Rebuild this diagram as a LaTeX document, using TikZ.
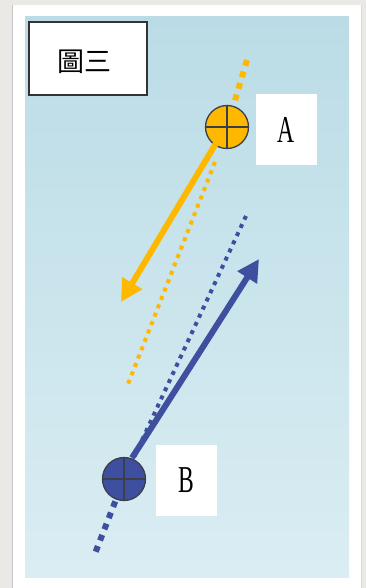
\documentclass[tikz,border=0pt]{standalone}
\usepackage{fontspec}
\usepackage{graphicx}
\setmainfont{Liberation Serif}
\newfontfamily\cjk{Noto Sans CJK TC}
\usetikzlibrary{arrows.meta}
\definecolor{outerbg}{HTML}{EAE9E5}
\definecolor{skytop}{HTML}{BBDCE6}
\definecolor{skybot}{HTML}{DAEDF3}
\definecolor{ayellow}{HTML}{FFB800}
\definecolor{bblue}{HTML}{3E4FA0}
\definecolor{rimgrey}{HTML}{3A3F4A}
\tikzset{
  ball/.style={circle, draw=rimgrey, line width=1.3pt, minimum size=43pt, inner sep=0pt},
  labelbox/.style={fill=white, minimum width=61pt, minimum height=71pt, inner sep=0pt},
  bigdots/.style={line width=6pt, dash pattern=on 6pt off 6pt},
  smalldots/.style={line width=4pt, dash pattern=on 4pt off 5pt},
  motion/.style={line width=6pt, -{Triangle[length=22pt,width=22pt]}},
  crossline/.style={draw=rimgrey, line width=1.2pt}
}
\begin{document}
\begin{tikzpicture}[x=1pt,y=-1pt]
\useasboundingbox (0,0) rectangle (366,588);
\fill[outerbg] (0,0) rectangle (366,588);
\fill[white] (12,5) rectangle (361,588);
\draw[gray!45, line width=1pt] (12,5) -- (12,588);
\draw[gray!30, line width=1pt] (361,5) -- (361,588);
\shade[top color=skytop, bottom color=skybot] (25,17) rectangle (349,577);

% title
\node[draw=black!80, line width=1.3pt, fill=white, minimum width=118pt, minimum height=73pt, inner sep=0pt] (title) at (88,58.5) {};
\node (titletext) at (84,62) {\cjk\fontsize{27}{27}\selectfont 圖三};

% positions
\coordinate (ca) at (227,127);
\coordinate (cb) at (124,479);
\coordinate (yTop) at (247,60);
\coordinate (yBot) at (128,384);
\coordinate (bTop) at (246,216);
\coordinate (bBot) at (94,556);
\coordinate (yTip) at (121,302);
\coordinate (bTip) at (259,259);

% yellow dotted track
\draw[ayellow, bigdots] (yTop) -- (ca);
\draw[ayellow, smalldots] (215,162) -- (yBot);
% blue dotted track
\draw[bblue, smalldots] (bTop) -- (cb);
\draw[bblue, bigdots] (cb) -- (bBot);

% balls
\node[ball, fill=ayellow] (A) at (ca) {};
\draw[crossline] (A.north) -- (A.south);
\draw[crossline] (A.west) -- (A.east);
\node[ball, fill=bblue] (B) at (cb) {};
\draw[crossline] (B.north) -- (B.south);
\draw[crossline] (B.west) -- (B.east);

% motion arrows
\draw[ayellow, motion] (A.south west) ++(5,0) -- (yTip);
\draw[bblue, motion] (B.north) ++(8,1) .. controls (150,430) .. (bTip);

% label boxes
\node[labelbox] (la) at (286.5,129.5) {\fontsize{38}{38}\selectfont\scalebox{0.62}[1]{A}};
\node[labelbox] (lb) at (186,480.5) {\fontsize{38}{38}\selectfont\scalebox{0.62}[1]{B}};
\end{tikzpicture}
\end{document}
